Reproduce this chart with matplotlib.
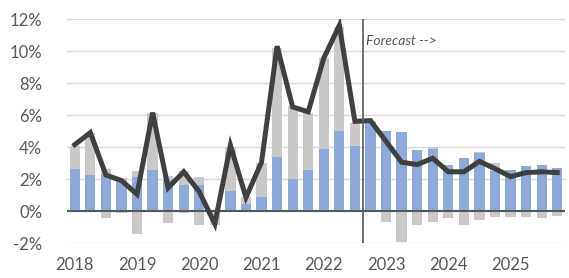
import numpy as np
import matplotlib.pyplot as plt

plt.rcParams['font.family'] = ['Lato', 'DejaVu Sans']

# quarterly data 2018Q1 .. 2025Q4 (percent)
quarters = [f"{y}Q{q}" for y in range(2018, 2026) for q in range(1, 5)]
blue = [2.62, 2.27, 2.30, 1.80, 2.10, 2.54, 1.94, 1.60,
        1.65, 0.05, 1.27, 0.44, 0.87, 3.40, 1.98, 2.56,
        3.88, 5.02, 4.06, 5.48, 4.98, 4.92, 3.79, 3.85,
        2.85, 3.33, 3.60, 2.52, 2.55, 2.81, 2.87, 2.67]
gray_pos = [1.44, 2.63, 0.30, 0.25, 0.38, 3.60, 0.25, 0.90,
            0.45, 0.00, 2.75, 0.46, 2.13, 6.80, 4.58, 3.54,
            5.70, 6.50, 1.46, 0.15, 0.00, 0.00, 0.00, 0.13,
            0.00, 0.00, 0.07, 0.50, 0.00, 0.00, 0.00, 0.00]
gray_neg = [0.00, 0.00, -0.42, -0.15, -1.42, 0.00, -0.73, -0.15,
            -0.88, -0.85, 0.00, 0.00, 0.00, 0.00, 0.00, 0.00,
            0.00, 0.00, 0.00, 0.00, -0.69, -1.92, -0.88, -0.69,
            -0.42, -0.90, -0.56, -0.40, -0.40, -0.40, -0.46, -0.29]
total = [4.15, 4.90, 2.25, 1.90, 1.05, 6.15, 1.45, 2.45,
         1.20, -0.80, 4.10, 0.85, 3.05, 10.30, 6.50, 6.20,
         9.55, 11.60, 5.60, 5.65, 4.35, 3.05, 2.90, 3.30,
         2.45, 2.45, 3.10, 2.65, 2.15, 2.40, 2.45, 2.40]
year_labels = ['2018', '2019', '2020', '2021', '2022', '2023', '2024', '2025']
forecast_start = 19  # index of first forecast quarter

x = np.arange(len(quarters))
blue = np.array(blue)
gray_pos = np.array(gray_pos)
gray_neg = np.array(gray_neg)

fig = plt.figure(figsize=(5.69, 2.78), dpi=100)
ax = fig.add_axes([67/569, 35/278, 498/569, 224/278])

w = 0.66
ax.bar(x, blue, w, color='#8eaadb', zorder=2)
ax.bar(x, gray_pos, w, bottom=np.where(blue > 0, blue, 0), color='#c9c9c9', zorder=2)
ax.bar(x, gray_neg, w, bottom=np.where(blue < 0, blue, 0), color='#c9c9c9', zorder=2)
ax.plot(x, total, color='#404040', lw=3.6, zorder=4, solid_joinstyle='miter')

ax.axhline(0, color='#595959', lw=1.5, zorder=3)
ax.plot([forecast_start - 0.5] * 2, [-2, 12], color='#595959', lw=1.2, zorder=5)
ax.text(forecast_start - 0.3, 10.6, 'Forecast -->', style='italic',
        color='#595959', fontsize=10, va='center', ha='left')

ax.set_xlim(-0.5, len(quarters) - 0.5)
ax.set_ylim(-2, 12)
ax.set_yticks(range(-2, 13, 2))
ax.set_yticklabels([f"{v}%" for v in range(-2, 13, 2)])
ax.set_xticks(x[::4])
ax.set_xticklabels(year_labels)
ax.grid(axis='y', color='#d9d9d9', lw=1, zorder=0)
ax.tick_params(length=0, labelsize=12, colors='#595959')
ax.tick_params(axis='y', pad=18)
ax.tick_params(axis='x', pad=10)
for s in ax.spines.values():
    s.set_visible(False)

fig.savefig('out.png', dpi=100)
